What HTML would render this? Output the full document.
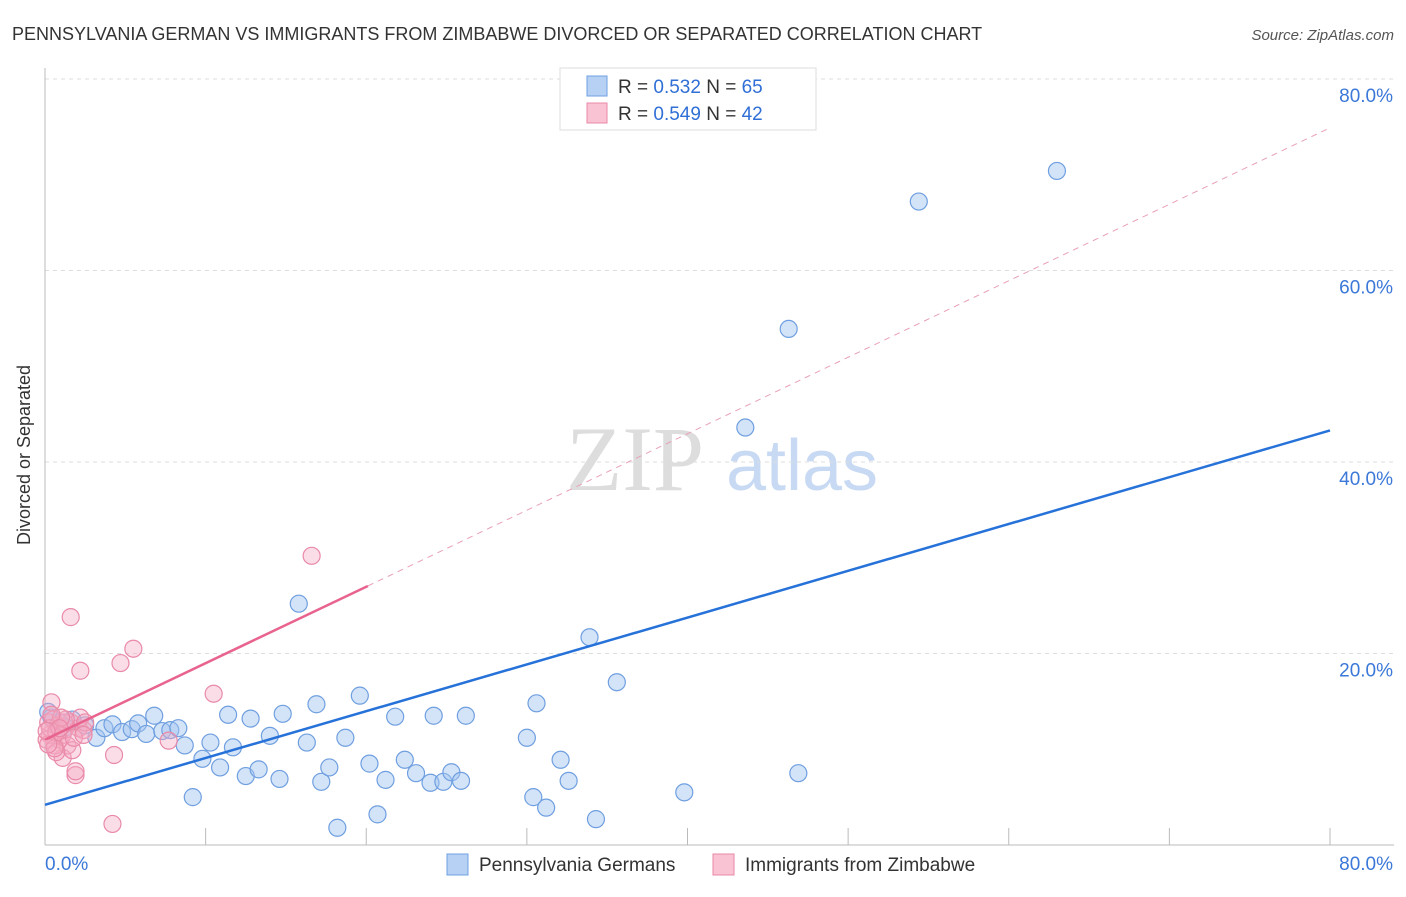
<!DOCTYPE html>
<html><head><meta charset="utf-8"><style>
body{margin:0;background:#fff;font-family:"Liberation Sans",sans-serif}
</style></head><body>
<svg width="1406" height="892" viewBox="0 0 1406 892" xmlns="http://www.w3.org/2000/svg" id="svg">
<text x="12" y="40" font-size="18" fill="#333">PENNSYLVANIA GERMAN VS IMMIGRANTS FROM ZIMBABWE DIVORCED OR SEPARATED CORRELATION CHART</text>
<text x="1394" y="40" font-size="15" fill="#555" font-style="italic" text-anchor="end">Source: ZipAtlas.com</text>
<text x="30" y="455" font-size="18" fill="#333" text-anchor="middle" transform="rotate(-90 30 455)">Divorced or Separated</text>
<g><text x="635" y="490" font-size="92" fill="#ddd" font-family="Liberation Serif" text-anchor="middle">ZIP</text><text x="802" y="490" font-size="72" fill="#c8daf3" text-anchor="middle">atlas</text></g>
<g id="grid"></g><g id="marks"></g>
<g>
<rect x="560" y="68" width="256" height="62" fill="#fff" stroke="#ddd"/>
<rect x="587" y="76" width="20" height="20" fill="#b7d1f5" stroke="#6f9fe0"/>
<rect x="587" y="103" width="20" height="20" fill="#f9c3d3" stroke="#e98aa8"/>
<text x="618" y="93" font-size="19" fill="#333">R = <tspan fill="#2f6fd6">0.532</tspan>   N = <tspan fill="#2f6fd6">65</tspan></text>
<text x="618" y="120" font-size="19" fill="#333">R = <tspan fill="#2f6fd6">0.549</tspan>   N = <tspan fill="#2f6fd6">42</tspan></text>
</g>
<g>
<rect x="447" y="854" width="21" height="21" fill="#b7d1f5" stroke="#6f9fe0"/>
<text x="479" y="871" font-size="19" fill="#333">Pennsylvania Germans</text>
<rect x="713" y="854" width="21" height="21" fill="#f9c3d3" stroke="#e98aa8"/>
<text x="745" y="871" font-size="19" fill="#333">Immigrants from Zimbabwe</text>
</g>
</svg>
<script>
const yTicks=[20,40,60,80];
const yTickLabels=["20.0%","40.0%","60.0%","80.0%"];
const xTicks=[0,10,20,30,40,50,60,70,80];
const blueX=[0.4,0.9,1.7,2.5,3.2,3.7,4.2,4.8,5.4,5.8,6.3,6.8,7.3,7.8,8.3,8.7,9.2,9.8,10.3,10.9,11.4,11.7,12.5,12.8,13.3,14.0,14.6,14.8,15.8,16.3,16.9,17.2,17.7,18.2,18.7,19.6,20.2,20.7,21.2,21.8,22.4,23.1,24.0,24.2,24.8,25.3,25.9,26.2,30.0,30.4,30.6,31.2,32.1,32.6,33.9,34.3,35.6,39.8,43.6,46.3,46.9,54.4,63.0,0.2,1.3];
const blueY=[13.3,12.8,13.1,12.5,11.2,12.2,12.6,11.8,12.1,12.7,11.6,13.5,11.9,12.0,12.2,10.4,5.0,9.0,10.7,8.1,13.6,10.2,7.2,13.2,7.9,11.4,6.9,13.7,25.2,10.7,14.7,6.6,8.1,1.8,11.2,15.6,8.5,3.2,6.8,13.4,8.9,7.5,6.5,13.5,6.6,7.6,6.7,13.5,11.2,5.0,14.8,3.9,8.9,6.7,21.7,2.7,17.0,5.5,43.6,53.9,7.5,67.2,70.4,13.9,12.3];
const pinkX=[0.4,1.6,2.2,4.7,5.5,10.5,16.6,7.7,4.3,4.2,1.9,1.9,1.1,0.9,0.6,0.3,0.2,0.5,0.8,1.2,1.6,2.1,2.4,0.1,0.3,0.7,1.1,1.4,1.7,0.7,0.6,0.2,1.2,2.2,2.5,1.3,1.0,0.4,0.9,1.8,2.4,0.1];
const pinkY=[14.9,23.8,18.2,19.0,20.5,15.8,30.2,10.9,9.4,2.2,7.3,7.7,9.1,11.0,10.4,11.5,12.8,13.1,12.5,12.0,12.8,12.2,12.0,11.0,12.2,11.8,11.5,10.4,9.9,9.7,10.1,10.5,12.8,13.3,12.8,13.1,13.3,13.6,12.2,11.2,11.5,11.9];
const blueLine=[4.2,43.3], pinkLine=[11.0,74.9], pinkSolidEnd=20.1;
const X=v=>45+v*1285/80, Y=v=>845-v*191.5/20;
const NS="http://www.w3.org/2000/svg";
function mk(t,a,p){const e=document.createElementNS(NS,t);for(const k in a)e.setAttribute(k,a[k]);p.appendChild(e);return e;}
const g=document.getElementById('grid'), m=document.getElementById('marks');
yTicks.forEach((t,i)=>{
 const l=mk('line',{x1:45,x2:1394,y1:Y(t),y2:Y(t),stroke:'#ddd','stroke-dasharray':'4,4'},g);
 
 const tx=mk('text',{x:1393,y:Y(t)+23,'font-size':19,fill:'#3b78d8','text-anchor':'end'},g);tx.textContent=yTickLabels[i];
 
});
const ax=mk('line',{x1:45,x2:45,y1:68,y2:845,stroke:'#bbb'},g);
const bx=mk('line',{x1:45,x2:1394,y1:845,y2:845,stroke:'#bbb'},g);
xTicks.forEach(t=>{const l=mk('line',{x1:X(t),x2:X(t),y1:828,y2:845,stroke:'#bbb'},g);});
const x0=mk('text',{x:45,y:870,'font-size':19,fill:'#3b78d8'},g);x0.textContent='0.0%';
const x1=mk('text',{x:1393,y:870,'font-size':19,fill:'#3b78d8','text-anchor':'end'},g);x1.textContent='80.0%';
blueX.forEach((v,i)=>{const c=mk('circle',{cx:X(v),cy:Y(blueY[i]),r:8.5,fill:'rgba(160,195,240,0.45)',stroke:'#6f9fe0','stroke-width':1.2},m);});
pinkX.forEach((v,i)=>{const c=mk('circle',{cx:X(v),cy:Y(pinkY[i]),r:8.5,fill:'rgba(245,170,195,0.4)',stroke:'#e98aa8','stroke-width':1.2},m);});
const pl=v=>pinkLine[0]+(pinkLine[1]-pinkLine[0])*v/80;
const d=mk('line',{x1:X(pinkSolidEnd),y1:Y(pl(pinkSolidEnd)),x2:X(80),y2:Y(pinkLine[1]),stroke:'#e8a0b5','stroke-dasharray':'6,5'},m);
const p=mk('line',{x1:X(0),y1:Y(pinkLine[0]),x2:X(pinkSolidEnd),y2:Y(pl(pinkSolidEnd)),stroke:'#e8648e','stroke-width':2.5},m);
const b=mk('line',{x1:X(0),y1:Y(blueLine[0]),x2:X(80),y2:Y(blueLine[1]),stroke:'#2672d9','stroke-width':2.5},m);
</script>
</body></html>
